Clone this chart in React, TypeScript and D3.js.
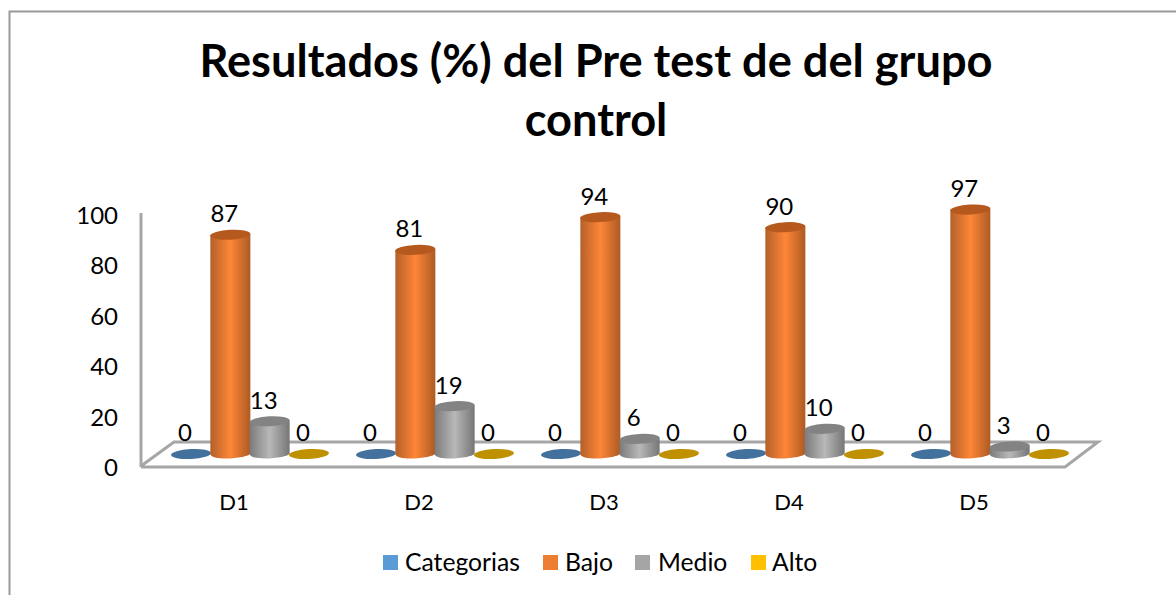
import React from "react";
import * as d3 from "d3";

const categories = ["D1", "D2", "D3", "D4", "D5"];
const seriesNames = ["Categorias", "Bajo", "Medio", "Alto"];
const categorias = [0, 0, 0, 0, 0];
const bajo = [87, 81, 94, 90, 97];
const medio = [13, 19, 6, 10, 3];
const alto = [0, 0, 0, 0, 0];
const yTicks = [0, 20, 40, 60, 80, 100];
const legendColors = ["#5b9bd5", "#ed7d31", "#a5a5a5", "#ffc000"];
const legendTextX = [405, 565, 658, 772];
const legendSwatchX = [383, 543, 635, 751];
const titleLines = ["Resultados (%) del Pre test de del grupo", "control"];

const seriesValues = [categorias, bajo, medio, alto];
const topColors = ["#41719c", "#b5591f", "#838383", "#bf9000"];
const FONT = "Lato, 'Open Sans', sans-serif";

const x0 = d3.scaleBand<string>().domain(categories).range([141.5, 1066.5]);
const x1 = d3.scaleBand<string>().domain(seriesNames).range([-62.6, 94.6]);
const y = d3.scaleLinear().domain([0, 100]).range([466, 214]);
const depthRise = 12;
const rx = 20;
const ry = 5;

function cylinderPath(cx: number, top: number, base: number) {
  const p = d3.path();
  p.moveTo(cx - rx, top);
  p.lineTo(cx - rx, base);
  p.bezierCurveTo(cx - rx, base + ry * 1.5, cx + rx, base + ry * 0.9, cx + rx, base - 1);
  p.lineTo(cx + rx, top - 1);
  p.closePath();
  return p.toString();
}

export default function App() {
  const floor = d3.line()([[141, 466], [174, 442], [1098, 442], [1065, 467], [141, 467]] as [number, number][]) as string;
  return (
    <svg width={1176} height={595} style={{ position: "absolute", left: 0, top: 0, background: "#fff" }} fontFamily={FONT}>
      <defs>
        <linearGradient id="g1" x1="0" x2="1" y1="0" y2="0">
          <stop offset="0" stopColor="#b4602a" />
          <stop offset="0.5" stopColor="#fe8637" />
          <stop offset="1" stopColor="#ad5a24" />
        </linearGradient>
        <linearGradient id="g2" x1="0" x2="1" y1="0" y2="0">
          <stop offset="0" stopColor="#7b7b7b" />
          <stop offset="0.5" stopColor="#b8b8b8" />
          <stop offset="1" stopColor="#767676" />
        </linearGradient>
      </defs>

      <path d="M9.5 595V11.5H1176" fill="none" stroke="#999" strokeWidth={2} />

      {titleLines.map((t, i) => (
        <text key={t} x={596} y={77 + i * 59} textAnchor="middle" fontSize={45.2} fontWeight={700} fill="#000">{t}</text>
      ))}

      <path d={floor} fill="none" stroke="#a6a6a6" strokeWidth={3} strokeLinejoin="miter" />
      <line x1={141} x2={141} y1={y(100) - 1} y2={y(0) + 1} stroke="#a6a6a6" strokeWidth={3} />

      {yTicks.map((t) => (
        <text key={t} x={118} y={y(t) + 1.5} dy="0.35em" textAnchor="end" fontSize={24} fill="#000">{t}</text>
      ))}
      {categories.map((c) => (
        <text key={c} x={(x0(c) as number) + x0.bandwidth() / 2} y={502} dy="0.35em" textAnchor="middle" fontSize={22} fill="#000">{c}</text>
      ))}

      {categories.map((c, ci) => {
        const center = (x0(c) as number) + x0.bandwidth() / 2;
        return (
          <g key={c}>
            {seriesNames.map((s, si) => {
              const v = seriesValues[si][ci];
              const cx = center + (x1(s) as number) + x1.bandwidth() / 2;
              const base = y(0) - depthRise;
              const top = y(v) - depthRise;
              return (
                <g key={s}>
                  {v > 0 && <path d={cylinderPath(cx, top, base)} fill={`url(#g${si})`} />}
                  <ellipse cx={cx} cy={top} rx={rx} ry={ry} fill={topColors[si]} transform={`rotate(-3 ${cx} ${top})`} />
                </g>
              );
            })}
            {seriesNames.map((s, si) => {
              const v = seriesValues[si][ci];
              const cx = center + (x1(s) as number) + x1.bandwidth() / 2;
              return (
                <text key={s} x={cx - 6} y={y(v) - depthRise - 21} dy="0.35em" textAnchor="middle" fontSize={24} fill="#000">{v}</text>
              );
            })}
          </g>
        );
      })}

      {seriesNames.map((s, i) => (
        <g key={s}>
          <rect x={legendSwatchX[i]} y={555} width={15} height={15} fill={legendColors[i]} />
          <text x={legendTextX[i]} y={562} dy="0.35em" fontSize={24.7} fill="#000">{s}</text>
        </g>
      ))}
    </svg>
  );
}
